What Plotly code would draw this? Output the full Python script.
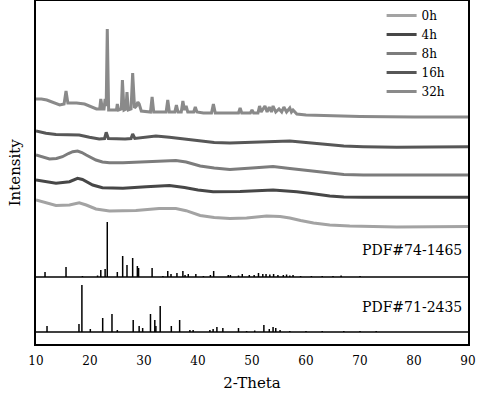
import plotly.graph_objects as go

# ---------------- data (stacked intensity, a.u.) ----------------
x_32h = [10, 11, 12, 13, 14.4, 15.2, 15.56, 15.9, 17.5, 19, 20, 21.2, 21.8, 22.0, 22.3, 22.6, 22.8, 23.0, 23.2, 23.45,
         24.3, 24.9, 25.06, 25.3, 25.8, 26.0, 26.3, 26.65, 26.85, 27.1, 27.6, 27.9, 28.25, 28.6, 28.85, 29.1, 29.5,
         30.5, 31.2, 31.5, 31.8, 33, 34.1, 34.4, 34.7, 35.7, 36.0, 36.3, 36.9, 37.2, 37.5, 37.8, 38.1, 39.2, 39.5,
         39.8, 41, 42.5, 42.85, 43.2, 45, 47.5, 47.8, 48.1, 49.7, 50, 50.3, 51.1, 51.4, 51.7, 52.4, 52.8, 53.2,
         53.6, 53.9, 54.4, 55.0, 55.5, 55.9, 56.4, 57.0, 57.3, 57.6, 58.3, 60, 65, 70, 80, 90]
y_32h = [245, 245, 244, 242, 239, 240, 253, 241, 241, 240, 238, 235, 235, 245, 235, 235, 245, 238, 315, 234,
         234, 234, 240, 234, 235, 264, 234, 235, 252, 234, 235, 271, 236, 238, 242, 240, 233,
         232, 232, 247, 232, 232, 232, 244, 232, 232, 239, 232, 232, 243, 234, 238, 232, 232, 237,
         232, 231, 231, 240, 231, 231, 231, 236, 231, 231, 234, 231, 231, 238, 232, 238, 232, 237,
         232, 238, 232, 235, 232, 237, 232, 236, 232, 234, 230, 229, 228, 227.5, 227, 227]

x_16h = [10, 11.85, 13.7, 15.6, 18, 19.9, 21.7, 22.7, 23.0, 23.4, 24.8, 26.5, 27.6, 27.9, 28.3, 30.4, 32.2, 34.7,
         37.3, 40.4, 43, 45.9, 49, 52.1, 55, 57, 59, 61.4, 64.4, 67, 70.6, 76.8, 83, 90]
y_16h = [213, 210.7, 209.5, 209, 209, 206.7, 205, 205.5, 211.7, 205.5, 205, 205, 205.5, 210, 205.5, 206.7, 208, 206.7,
         205, 202.5, 201.5, 201, 201.5, 202.5, 203, 203, 202, 200.7, 199, 198, 197.3, 196.7, 197, 197.3]

x_8h = [10, 11.2, 12.5, 13.8, 14.9, 16, 16.8, 17.7, 18.5, 19.3, 20.2, 21.1, 22.3, 23.6, 26.1, 29.8, 32.8, 35.9,
        37.8, 40.4, 43, 45.9, 50, 53.9, 57, 60, 62.5, 64.4, 67, 70.6, 80, 90]
y_8h = [189, 187, 185, 185.5, 187.3, 190.5, 192.3, 193, 191.5, 189, 186.5, 184, 182, 181.3, 181.3, 182.3, 183.3, 183.5,
        182, 178, 176, 174.5, 176, 177.5, 175.5, 173.5, 172, 170.7, 169.5, 169, 169, 169]

x_4h = [10, 12, 13.7, 16.2, 17.7, 18.6, 19.3, 20.5, 22.3, 26.1, 30.4, 34.7, 37.5, 40, 42.8, 47.8, 53.9, 58.3,
        61, 64.4, 67, 70.6, 80, 90]
y_4h = [164, 162, 160.7, 162.3, 165.7, 164.5, 162.3, 159, 156.3, 155.7, 157.3, 158.5, 156.5, 154, 152.3, 152.5, 154,
        152.3, 150.5, 148, 147, 146.7, 146.7, 146.7]

x_0h = [10, 12, 13.7, 16.2, 18, 19.3, 21.1, 23.6, 28.5, 32.8, 35.9, 37.8, 40.4, 43, 45.9, 49, 52.7, 55.2, 57,
        59, 61.4, 64.4, 68.1, 76.8, 90]
y_0h = [144, 141, 138.5, 139, 141.3, 139, 135, 133, 133.5, 135.5, 135.5, 133.3, 128.5, 126.5, 125.5, 126, 128,
        127.5, 126, 123.5, 121, 119, 118, 117, 117.5]

# reference patterns: positions and relative heights
pdf74_pos = [11.67, 15.56, 18.6, 21.4, 22.0, 22.8, 23.2, 25.06, 26.05, 26.85, 27.9, 28.77, 29.0, 31.5, 33.5, 34.4,
             35.0, 36.1, 37.2, 37.6, 38.2, 39.6, 41.0, 42.3, 42.9, 45.6, 46.0, 47.5, 48.2, 49.5, 50.4, 51.2, 52.0,
             52.6, 53.3, 54.0, 54.8, 55.8, 56.4, 57.0, 57.6, 59, 61, 63, 65, 66.5, 70]
pdf74_int = [5, 10, 1, 1.5, 7, 8, 55, 5, 21, 12, 19, 11, 9, 9, 1, 6,
             3, 4, 6, 2, 3, 3, 1, 2, 6, 2, 2, 1.5, 3, 2, 2, 4, 3,
             3, 2.5, 3, 2, 2, 2.5, 1.5, 2, 1, 1, 1, 1, 1.5, 1]
pdf71_pos = [12.04, 17.96, 18.5, 20.06, 22.35, 24.07, 25.06, 28.0, 29.1, 29.75, 31.2, 32.0, 32.2, 33.0, 35.06, 36.6,
             38.5, 39.1, 42.2, 42.8, 43.5, 44.6, 47.5, 49, 50.5, 52.2, 53.2, 53.9, 54.4, 55.2, 57, 60, 63, 67, 70, 73]
pdf71_int = [6, 8, 47, 3, 14, 18, 2, 12, 6, 4, 18, 12, 6, 26, 6, 12,
             2, 2, 2, 3, 5, 4, 4, 1, 1.5, 7, 3, 5, 4, 2, 1, 1, 1, 1, 1, 1]
pdf74_base = 67
pdf71_base = 12

series = [("0h", x_0h, y_0h, "#a3a3a3"),
          ("4h", x_4h, y_4h, "#474747"),
          ("8h", x_8h, y_8h, "#7c7c7c"),
          ("16h", x_16h, y_16h, "#575757"),
          ("32h", x_32h, y_32h, "#8a8a8a")]

FONT = "DejaVu Serif"

fig = go.Figure()
for name, xs, ys, col in series:
    fig.add_trace(go.Scatter(x=xs, y=ys, mode="lines", name=name,
                             line=dict(color=col, width=3)))


def sticks(pos, ints, base):
    xs, ys = [10, 90, None], [base, base, None]
    for p, h in zip(pos, ints):
        xs += [p, p, None]
        ys += [base, base + h, None]
    return xs, ys


for pos, ints, base in [(pdf74_pos, pdf74_int, pdf74_base), (pdf71_pos, pdf71_int, pdf71_base)]:
    sx, sy = sticks(pos, ints, base)
    fig.add_trace(go.Scatter(x=sx, y=sy, mode="lines", showlegend=False,
                             line=dict(color="black", width=1.5)))

fig.add_annotation(x=89.3, y=pdf74_base + 27, text="PDF#74-1465", showarrow=False,
                   xanchor="right", yanchor="middle", font=dict(family=FONT, size=14, color="black"))
fig.add_annotation(x=89.3, y=pdf71_base + 25, text="PDF#71-2435", showarrow=False,
                   xanchor="right", yanchor="middle", font=dict(family=FONT, size=14, color="black"))
fig.add_annotation(xref="paper", yref="paper", x=-0.049, y=0.5, text="Intensity", textangle=-90,
                   showarrow=False, xanchor="center", yanchor="middle",
                   font=dict(family=FONT, size=15, color="black"))

fig.update_layout(
    width=477, height=395,
    margin=dict(l=36, r=9, t=1, b=51, autoexpand=False),
    paper_bgcolor="white", plot_bgcolor="white",
    font=dict(family=FONT, size=12, color="black"),
    showlegend=True,
    legend=dict(x=0.80, y=1.0, xanchor="left", yanchor="top", bgcolor="rgba(0,0,0,0)",
                font=dict(family=FONT, size=12, color="black"), tracegroupgap=0),
    xaxis=dict(range=[10, 90], tickvals=[10, 20, 30, 40, 50, 60, 70, 80, 90], ticks="",
               showgrid=False, zeroline=False, showline=True, linecolor="black", linewidth=1.6,
               mirror=True, title=dict(text="2-Theta", font=dict(family=FONT, size=15), standoff=10),
               tickfont=dict(family=FONT, size=12), ticklabelstandoff=5, automargin=False),
    yaxis=dict(range=[0, 343], showticklabels=False, ticks="", showgrid=False, zeroline=False,
               showline=True, linecolor="black", linewidth=1.6, mirror=True, automargin=False),
)

fig.write_html("out.html", config={"displayModeBar": False},
               post_script="document.body.style.margin='0px';document.body.style.overflow='hidden';")
